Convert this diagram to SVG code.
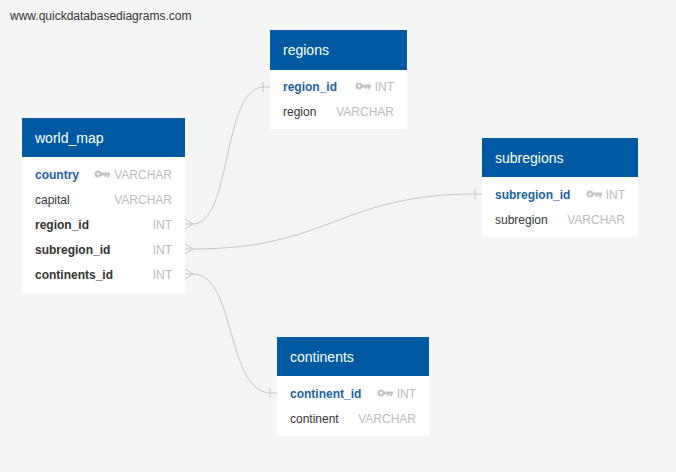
<svg xmlns="http://www.w3.org/2000/svg" width="676" height="472" viewBox="0 0 676 472">
<defs>
<style>
text{font-family:"Liberation Sans",Arial,sans-serif}
.hd{fill:#005aa2}
.bd{fill:#ffffff}
.ht{fill:#ffffff;font-size:14px}
.pk{fill:#1a62a6;font-size:12px;font-weight:bold}
.fk{fill:#333;font-size:12px;font-weight:bold}
.fd{fill:#333;font-size:12px}
.ty{fill:#b9bcbf;font-size:12px;text-anchor:end}
.cn{fill:none;stroke:#c4c6c8;stroke-width:1}
</style>
<g id="keyicon">
<circle cx="0" cy="0" r="3.6" fill="#c3c5c7"/>
<circle cx="0" cy="0" r="1.2" fill="#ffffff"/>
<path d="M3,-1.5 H12 V1.5 H11 V3.5 H9.2 V1.5 H8 V3 H6.4 V1.5 H3 Z" fill="#c3c5c7"/>
</g>
</defs>
<rect width="676" height="472" fill="#f4f5f5"/>
<text x="10" y="20" style="fill:#333;font-size:12px">www.quickdatabasediagrams.com</text>

<g id="connectors">
<path class="cn" d="M185,219 L193,224 L185,229 M185,224 H193"/>
<path class="cn" d="M193,224 C232,224 222,87 264,87 H270 M263,82 V92"/>
<path class="cn" d="M185,244 L193,249 L185,254 M185,249 H193"/>
<path class="cn" d="M193,249 C330,249 340,194 476,194 H482 M475,189 V199"/>
<path class="cn" d="M185,269 L193,274 L185,279 M185,274 H193"/>
<path class="cn" d="M193,274 C236,274 226,393 271,393 H277 M270,388 V398"/>
</g>

<g id="world_map">
<rect class="bd" x="22" y="157" width="163" height="136"/>
<rect class="hd" x="22" y="118" width="163" height="39"/>
<text class="ht" x="35" y="143">world_map</text>
<text class="pk" x="35" y="179">country</text>
<use href="#keyicon" x="98" y="174"/>
<text class="ty" x="172" y="179">VARCHAR</text>
<text class="fd" x="35" y="204">capital</text>
<text class="ty" x="172" y="204">VARCHAR</text>
<text class="fk" x="35" y="229">region_id</text>
<text class="ty" x="172" y="229">INT</text>
<text class="fk" x="35" y="254">subregion_id</text>
<text class="ty" x="172" y="254">INT</text>
<text class="fk" x="35" y="279">continents_id</text>
<text class="ty" x="172" y="279">INT</text>
</g>

<g id="regions">
<rect class="bd" x="270" y="70" width="137" height="59"/>
<rect class="hd" x="270" y="30" width="137" height="40"/>
<text class="ht" x="283" y="55">regions</text>
<text class="pk" x="283" y="91">region_id</text>
<use href="#keyicon" x="359" y="86"/>
<text class="ty" x="394" y="91">INT</text>
<text class="fd" x="283" y="116">region</text>
<text class="ty" x="394" y="116">VARCHAR</text>
</g>

<g id="subregions">
<rect class="bd" x="482" y="177" width="156" height="60"/>
<rect class="hd" x="482" y="138" width="156" height="39"/>
<text class="ht" x="495" y="163">subregions</text>
<text class="pk" x="495" y="199">subregion_id</text>
<use href="#keyicon" x="590" y="194"/>
<text class="ty" x="625" y="199">INT</text>
<text class="fd" x="495" y="224">subregion</text>
<text class="ty" x="625" y="224">VARCHAR</text>
</g>

<g id="continents">
<rect class="bd" x="277" y="376" width="152" height="60"/>
<rect class="hd" x="277" y="337" width="152" height="39"/>
<text class="ht" x="290" y="362">continents</text>
<text class="pk" x="290" y="398">continent_id</text>
<use href="#keyicon" x="381" y="393"/>
<text class="ty" x="416" y="398">INT</text>
<text class="fd" x="290" y="423">continent</text>
<text class="ty" x="416" y="423">VARCHAR</text>
</g>
</svg>
